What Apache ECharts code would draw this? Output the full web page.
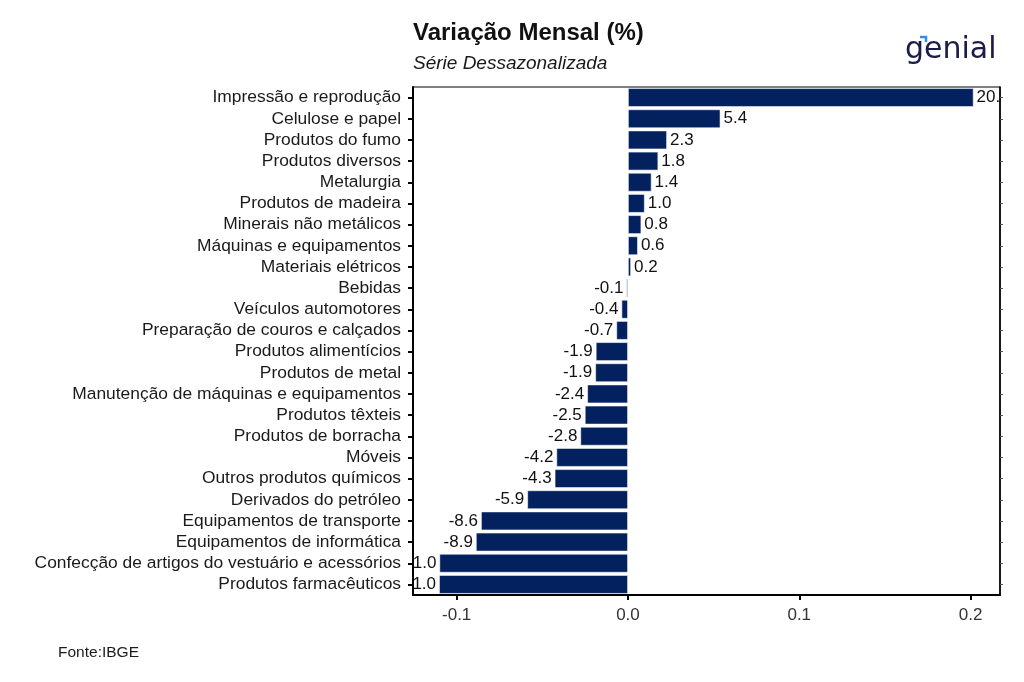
<!DOCTYPE html>
<html>
<head>
<meta charset="utf-8">
<script src="https://cdn.jsdelivr.net/npm/echarts@6/dist/echarts.min.js"></script>
<style>
  html, body { margin: 0; padding: 0; background: #fff; }
  #chart { width: 1024px; height: 682px; }
</style>
</head>
<body>
<div id="chart"></div>
<script>
// categories listed top to bottom, as in the picture
const categories = [
  "Impressão e reprodução",
  "Celulose e papel",
  "Produtos do fumo",
  "Produtos diversos",
  "Metalurgia",
  "Produtos de madeira",
  "Minerais não metálicos",
  "Máquinas e equipamentos",
  "Materiais elétricos",
  "Bebidas",
  "Veículos automotores",
  "Preparação de couros e calçados",
  "Produtos alimentícios",
  "Produtos de metal",
  "Manutenção de máquinas e equipamentos",
  "Produtos têxteis",
  "Produtos de borracha",
  "Móveis",
  "Outros produtos químicos",
  "Derivados do petróleo",
  "Equipamentos de transporte",
  "Equipamentos de informática",
  "Confecção de artigos do vestuário e acessórios",
  "Produtos farmacêuticos"
];

// monthly change as a fraction (label shows value * 100)
const values = [
  0.2018, 0.0540, 0.0228, 0.0177, 0.0138, 0.0098, 0.0078, 0.0058, 0.0018,
  -0.0009, -0.0038, -0.0068, -0.0188, -0.0191, -0.0238, -0.0252, -0.0278,
  -0.0418, -0.0428, -0.0588, -0.0858, -0.0888, -0.1101, -0.1103
];

const xTicks = [-0.1, 0.0, 0.1, 0.2];

const FONT = "Liberation Sans, Arial, sans-serif";
const BAR = "#03215f";

const chart = echarts.init(document.getElementById("chart"));

const grid = { left: 413, right: 24, top: 87, bottom: 87 };

const seriesData = values.map((v) => ({
  value: v,
  label: { position: v >= 0 ? "right" : "left" }
}));

const option = {
  backgroundColor: "#fff",
  animation: false,
  title: [
    {
      text: "Variação Mensal (%)",
      left: 413,
      top: 21,
      padding: 0,
      textStyle: { fontFamily: FONT, fontSize: 24, fontWeight: "bold", color: "#111" }
    },
    {
      text: "Série Dessazonalizada",
      left: 413,
      top: 54,
      padding: 0,
      textStyle: { fontFamily: FONT, fontSize: 19, fontStyle: "italic", fontWeight: "normal", color: "#1a1a1a" }
    },
    {
      text: "Fonte:IBGE",
      left: 58,
      top: 645,
      padding: 0,
      textStyle: { fontFamily: FONT, fontSize: 15.5, fontWeight: "normal", color: "#1a1a1a" }
    }
  ],
  graphic: [
    // masks: labels are cut off at the plot border, as in the original
    { type: "rect", z: 5, shape: { x: 0, y: grid.top, width: grid.left - 1, height: 682 - grid.top - grid.bottom + 1 }, style: { fill: "#fff" } },
    { type: "rect", z: 5, shape: { x: 1024 - grid.right + 1, y: grid.top, width: grid.right, height: 682 - grid.top - grid.bottom + 1 }, style: { fill: "#fff" } },
    // logo
    {
      type: "text", z: 20, left: 905, top: 35,
      style: { text: "genial", fontFamily: "DejaVu Sans, sans-serif", fontSize: 30, fontWeight: "normal", fill: "#1b1c4b" }
    },
    {
      type: "polyline", z: 20,
      shape: { points: [[920, 37], [926, 37], [926, 42]] },
      style: { stroke: "#2f8fe6", lineWidth: 2.5, fill: null }
    }
  ],
  grid: {
    left: grid.left, right: grid.right, top: grid.top, bottom: grid.bottom,
    show: true, borderColor: "#000", borderWidth: 1.2, backgroundColor: "#fff"
  },
  xAxis: {
    type: "value",
    min: -0.1255,
    max: 0.2172,
    z: 10,
    splitLine: { show: false },
    axisLine: { show: true, onZero: false, lineStyle: { color: "#000", width: 2 } },
    axisTick: { show: true, length: 5, customValues: xTicks, lineStyle: { color: "#000", width: 2 } },
    axisLabel: {
      customValues: xTicks,
      margin: 12,
      fontFamily: FONT,
      fontSize: 17,
      color: "#333",
      formatter: (v) => v.toFixed(1)
    }
  },
  yAxis: [
    {
      type: "category",
      data: categories,
      inverse: true,
      z: 10,
      axisLine: { show: true, onZero: false, lineStyle: { color: "#000", width: 2 } },
      axisTick: { show: true, length: 5, interval: 0, alignWithLabel: true, lineStyle: { color: "#000", width: 2 } },
      axisLabel: { interval: 0, margin: 12, fontFamily: FONT, fontSize: 17.4, color: "#1a1a1a" },
      splitLine: { show: false }
    },
    {
      type: "category",
      data: categories,
      inverse: true,
      position: "right",
      z: 10,
      axisLine: { show: true, onZero: false, lineStyle: { color: "#000", width: 1.5 } },
      axisTick: { show: true, length: 3, interval: 0, alignWithLabel: true, lineStyle: { color: "#555", width: 1 } },
      axisLabel: { show: false },
      splitLine: { show: false }
    }
  ],
  series: [
    {
      type: "bar",
      yAxisIndex: 0,
      data: seriesData,
      barCategoryGap: "11%",
      z: 2,
      itemStyle: { color: BAR, borderColor: "rgba(255,255,255,0.7)", borderWidth: 0.8 },
      label: {
        show: true,
        distance: 3,
        fontFamily: FONT,
        fontSize: 17,
        color: "#111",
        formatter: (p) => (p.value * 100).toFixed(1)
      }
    }
  ]
};

chart.setOption(option);
window.addEventListener("resize", () => chart.resize());
</script>
</body>
</html>
